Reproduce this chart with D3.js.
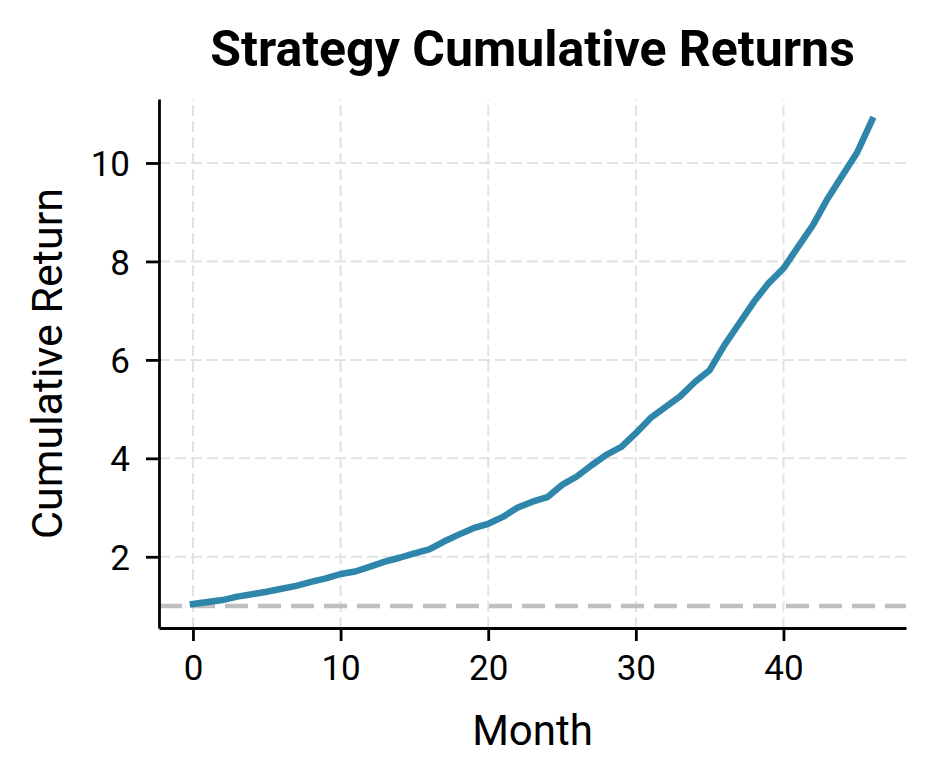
<!DOCTYPE html>
<html>
<head>
<meta charset="utf-8">
<script src="https://cdn.jsdelivr.net/npm/d3@7"></script>
<style>
  body { margin: 0; background: #fff; }
  text { font-family: Roboto, "Noto Sans", sans-serif; fill: #000; }
</style>
</head>
<body>
<div id="chart"></div>
<script>
// values
const months = [0, 1, 2, 3, 4, 5, 6, 7, 8, 9, 10, 11, 12, 13, 14, 15, 16, 17, 18, 19, 20, 21, 22, 23,
                24, 25, 26, 27, 28, 29, 30, 31, 32, 33, 34, 35, 36, 37, 38, 39, 40, 41, 42, 43, 44, 45, 46];
const cumReturn = [1.04, 1.08, 1.12, 1.19, 1.24, 1.29, 1.35, 1.41, 1.49, 1.56, 1.65, 1.70, 1.80, 1.90,
                   1.98, 2.07, 2.15, 2.31, 2.45, 2.58, 2.67, 2.81, 3.00, 3.12, 3.21, 3.46, 3.63, 3.86,
                   4.07, 4.23, 4.51, 4.82, 5.04, 5.26, 5.55, 5.79, 6.30, 6.74, 7.18, 7.56, 7.86, 8.30,
                   8.74, 9.28, 9.75, 10.22, 10.87];
const baseline = 1;
const xTicks = [0, 10, 20, 30, 40];
const yTicks = [2, 4, 6, 8, 10];

var margin = {top: 99, right: 28, bottom: 156, left: 159},
    width = 934 - margin.left - margin.right,
    height = 784 - margin.top - margin.bottom;

var svg = d3.select("#chart")
    .append("svg")
    .attr("width", 934)
    .attr("height", 784);

var g = svg.append("g")
    .attr("transform", "translate(" + margin.left + "," + margin.top + ")");

// matplotlib style 5% padding on x
var x = d3.scaleLinear()
    .domain([-2.3, 48.3])
    .range([0, width]);

var y = d3.scaleLinear()
    .domain([0.553, 11.3])
    .range([height, 0]);

// grid
g.selectAll(".vgrid")
    .data(xTicks)
    .enter()
    .append("line")
    .attr("x1", d => x(d)).attr("x2", d => x(d))
    .attr("y1", height).attr("y2", 0)
    .style("stroke", "#e2e2e2")
    .style("stroke-width", 2)
    .style("stroke-dasharray", "11,5");

g.selectAll(".hgrid")
    .data(yTicks)
    .enter()
    .append("line")
    .attr("x1", 0).attr("x2", width)
    .attr("y1", d => y(d)).attr("y2", d => y(d))
    .style("stroke", "#e2e2e2")
    .style("stroke-width", 2)
    .style("stroke-dasharray", "11,5");

// break-even line
g.append("line")
    .attr("x1", 0).attr("x2", width)
    .attr("y1", y(baseline)).attr("y2", y(baseline))
    .style("stroke", "#bfbfbf")
    .style("stroke-width", 4.5)
    .style("stroke-dasharray", "23,10");

var line = d3.line()
    .x((d, i) => x(months[i]))
    .y(d => y(d));

g.append("path")
    .datum(cumReturn)
    .attr("d", line)
    .style("fill", "none")
    .style("stroke", "#2E86AB")
    .style("stroke-width", 6.5)
    .style("stroke-linejoin", "round")
    .style("stroke-linecap", "square");

// axes
var xAxis = g.append("g")
    .attr("transform", "translate(0," + height + ")")
    .call(d3.axisBottom(x).tickValues(xTicks).tickSize(13).tickPadding(14).tickSizeOuter(0));

var yAxis = g.append("g")
    .call(d3.axisLeft(y).tickValues(yTicks).tickSize(13).tickPadding(16).tickSizeOuter(0));

[xAxis, yAxis].forEach(function(a){
    a.select(".domain").style("stroke", "#000").style("stroke-width", 2.8);
    a.selectAll(".tick line").style("stroke", "#000").style("stroke-width", 2.8);
    a.selectAll(".tick text")
        .style("font-family", "Roboto, sans-serif")
        .style("font-size", "35px")
        .style("fill", "#000");
});
xAxis.selectAll(".tick text").attr("dy", "0.71em");
yAxis.selectAll(".tick text").attr("dy", "0.36em");

// titles
svg.append("text")
    .attr("x", margin.left + width / 2)
    .attr("y", 66)
    .attr("text-anchor", "middle")
    .style("font-size", "50px")
    .style("font-weight", "bold")
    .text("Strategy Cumulative Returns");

svg.append("text")
    .attr("x", margin.left + width / 2)
    .attr("y", 745)
    .attr("text-anchor", "middle")
    .style("font-size", "42px")
    .text("Month");

svg.append("text")
    .attr("transform", "translate(62," + (margin.top + height / 2) + ") rotate(-90)")
    .attr("text-anchor", "middle")
    .style("font-size", "43px")
    .text("Cumulative Return");
</script>
</body>
</html>
